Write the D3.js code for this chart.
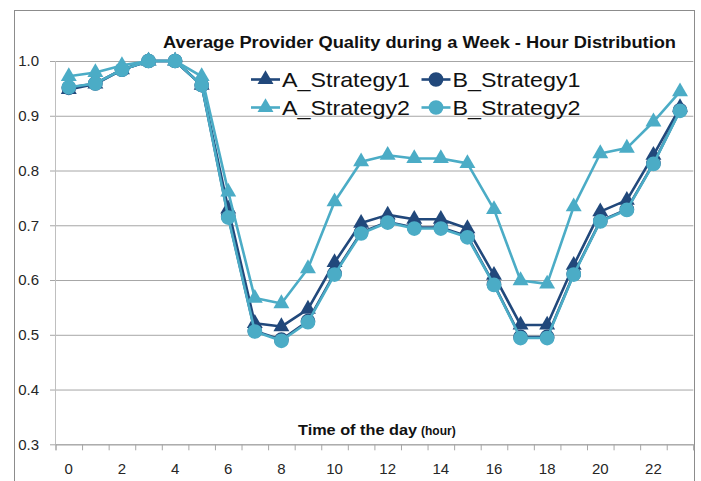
<!DOCTYPE html>
<html>
<head>
<meta charset="utf-8">
<script src="https://cdn.jsdelivr.net/npm/d3@7"></script>
<style>
  body { margin: 0; background: #fff; }
  text { font-family: "Liberation Sans", Arial, sans-serif; }
</style>
</head>
<body>
<div id="container"></div>
<script>
const hours = d3.range(0, 24)
const hourLabels = [0, 2, 4, 6, 8, 10, 12, 14, 16, 18, 20, 22]
const yTicks = [0.3, 0.4, 0.5, 0.6, 0.7, 0.8, 0.9, 1.0]

const aStrategy1 = [0.948, 0.958, 0.984, 1.0, 1.0, 0.956, 0.73, 0.521, 0.515, 0.547, 0.632, 0.704, 0.719, 0.711, 0.711, 0.694, 0.609, 0.518, 0.518, 0.627, 0.725, 0.746, 0.828, 0.915]
const bStrategy1 = [0.951, 0.959, 0.984, 1.0, 1.0, 0.956, 0.716, 0.507, 0.491, 0.525, 0.612, 0.687, 0.706, 0.696, 0.696, 0.68, 0.592, 0.496, 0.496, 0.611, 0.708, 0.729, 0.813, 0.91]
const aStrategy2 = [0.972, 0.979, 0.992, 1.0, 1.0, 0.972, 0.761, 0.567, 0.557, 0.621, 0.743, 0.816, 0.828, 0.822, 0.822, 0.813, 0.729, 0.599, 0.593, 0.734, 0.831, 0.841, 0.889, 0.944]
const bStrategy2 = [0.952, 0.959, 0.984, 1.0, 1.0, 0.956, 0.714, 0.506, 0.489, 0.523, 0.61, 0.685, 0.705, 0.694, 0.694, 0.678, 0.591, 0.494, 0.494, 0.61, 0.707, 0.728, 0.812, 0.909]

const seriesNames = ["A_Strategy1", "B_Strategy1", "A_Strategy2", "B_Strategy2"]
const seriesValues = [aStrategy1, bStrategy1, aStrategy2, bStrategy2]

const dark = "#21487b"
const teal = "#4bacc6"
const styles = [
  { color: dark, shape: d3.symbolTriangle, size: 110 },
  { color: dark, shape: d3.symbolCircle, size: 170 },
  { color: teal, shape: d3.symbolTriangle, size: 110 },
  { color: teal, shape: d3.symbolCircle, size: 170 }
]

const w = 701
const h = 481
const plotLeft = 55.5
const plotRight = 693.3
const plotTop = 61
const plotBottom = 444.3

const svg = d3.select("#container")
  .append("svg")
  .attr("width", w)
  .attr("height", h)

// chart border
svg.append("rect")
  .attr("x", 14.5)
  .attr("y", 10.5)
  .attr("width", 680)
  .attr("height", 500)
  .attr("fill", "none")
  .attr("stroke", "#8c8c8c")

const x = d3.scaleBand().domain(hours).range([plotLeft, plotRight]).paddingInner(0).paddingOuter(0)
const y = d3.scaleLinear().domain([0.3, 1.0]).range([plotBottom, plotTop])

// gridlines + y labels
const yAxis = svg.append("g")
  .attr("transform", `translate(${plotRight},0)`)
  .call(d3.axisLeft(y).tickValues(yTicks).tickSize(plotRight - 50).tickPadding(11).tickFormat(d3.format(".1f")))
yAxis.select(".domain").remove()
yAxis.selectAll(".tick line").attr("stroke", "#a6a6a6")
yAxis.selectAll(".tick text")
  .attr("fill", "#262626")
  .style("font-size", "15px")

// y axis line
svg.append("line")
  .attr("x1", plotLeft).attr("x2", plotLeft)
  .attr("y1", plotTop).attr("y2", plotBottom)
  .attr("stroke", "#bfbfbf")

// x axis boundary ticks
const xTickScale = d3.scaleLinear().domain([0, 24]).range([plotLeft, plotRight])
const xAxis = svg.append("g")
  .attr("transform", `translate(0,${plotBottom})`)
  .call(d3.axisBottom(xTickScale).tickValues(d3.range(0, 25)).tickSize(6).tickFormat(""))
xAxis.select(".domain").attr("stroke", "#a6a6a6")
xAxis.selectAll(".tick line").attr("stroke", "#a6a6a6")

// x labels
const xLabels = svg.append("g")
  .attr("transform", `translate(0,${plotBottom})`)
  .call(d3.axisBottom(x).tickValues(hourLabels).tickSize(0).tickPadding(19))
xLabels.select(".domain").remove()
xLabels.selectAll(".tick text")
  .attr("fill", "#262626")
  .style("font-size", "15px")

// title
svg.append("text")
  .attr("x", 163)
  .attr("y", 48)
  .attr("textLength", 513)
  .attr("lengthAdjust", "spacingAndGlyphs")
  .style("font-size", "16px")
  .style("font-weight", "bold")
  .attr("fill", "#111")
  .text("Average Provider Quality during a Week - Hour Distribution")

// x axis title
const xt = svg.append("text")
  .attr("x", 298)
  .attr("y", 435)
  .attr("fill", "#111")
  .style("font-weight", "bold")
xt.append("tspan")
  .style("font-size", "15px")
  .attr("textLength", 119)
  .attr("lengthAdjust", "spacingAndGlyphs")
  .text("Time of the day")
xt.append("tspan")
  .attr("dx", 4)
  .style("font-size", "12px")
  .text("(hour)")

// series
const line = d3.line()
  .x((d, i) => x(i) + x.bandwidth() / 2)
  .y((d) => y(d))

seriesValues.forEach((vals, k) => {
  const st = styles[k]
  const g = svg.append("g")
  g.append("path")
    .attr("d", line(vals))
    .attr("fill", "none")
    .attr("stroke", st.color)
    .attr("stroke-width", 2.6)
    .attr("stroke-linejoin", "round")
  g.selectAll("path.mark")
    .data(vals)
    .enter()
    .append("path")
    .attr("class", "mark")
    .attr("d", d3.symbol().type(st.shape).size(st.size))
    .attr("transform", (d, i) => `translate(${x(i) + x.bandwidth() / 2},${y(d)})`)
    .attr("fill", st.color)
})

// legend
const legendPos = [
  { lx: 251, ly: 79.5 },
  { lx: 421.5, ly: 79.5 },
  { lx: 251, ly: 107.5 },
  { lx: 421.5, ly: 107.5 }
]
seriesNames.forEach((name, k) => {
  const st = styles[k]
  const p = legendPos[k]
  const g = svg.append("g").attr("transform", `translate(${p.lx},${p.ly})`)
  g.append("line")
    .attr("x1", 0).attr("x2", 29)
    .attr("stroke", st.color)
    .attr("stroke-width", 2.6)
  g.append("path")
    .attr("d", d3.symbol().type(st.shape).size(st.size))
    .attr("transform", "translate(14.5,0)")
    .attr("fill", st.color)
  g.append("text")
    .attr("x", 31)
    .attr("y", 7)
    .attr("textLength", 128)
    .attr("lengthAdjust", "spacingAndGlyphs")
    .style("font-size", "21px")
    .attr("fill", "#111")
    .text(name)
})
</script>
</body>
</html>
